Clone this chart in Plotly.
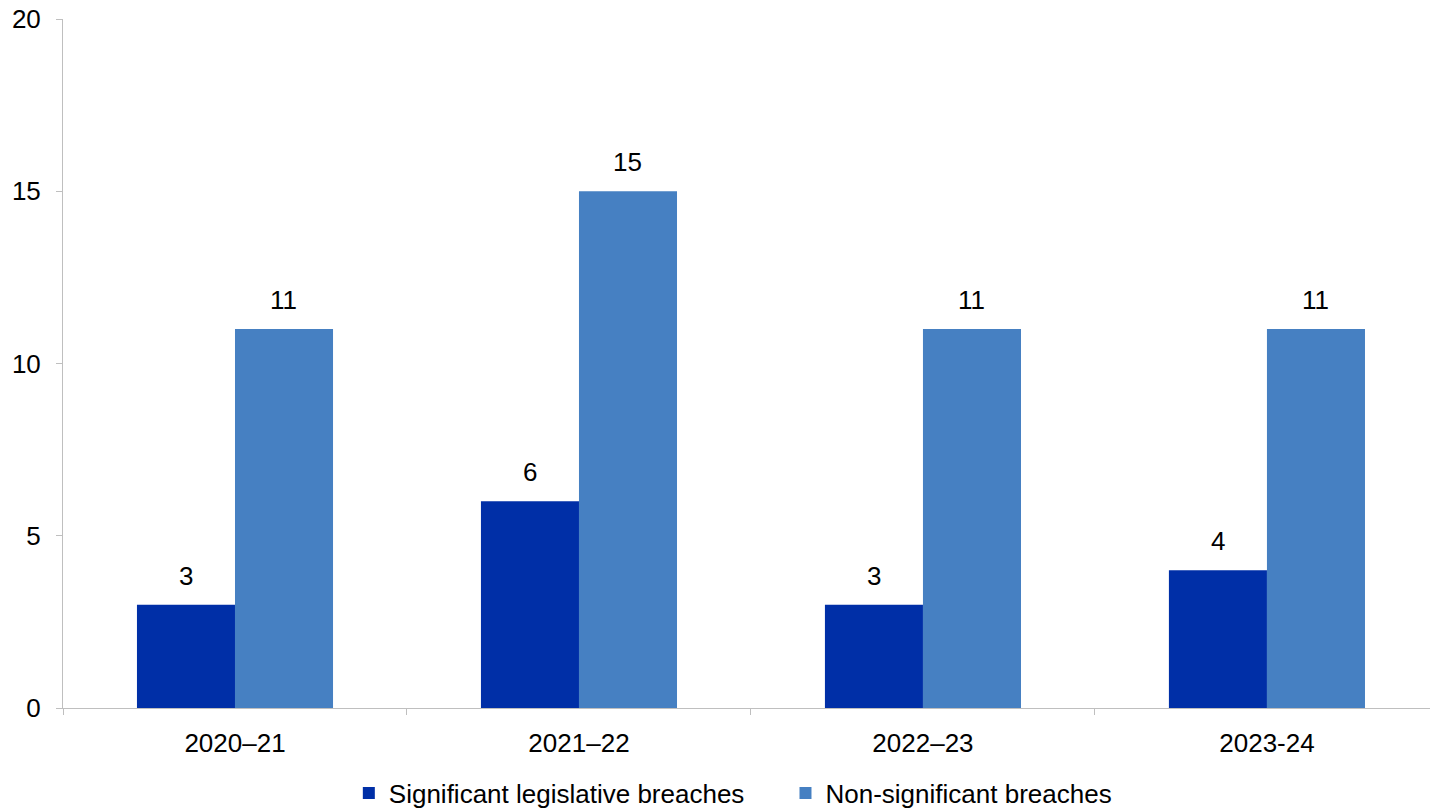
import plotly.graph_objects as go

categories = ["2020–21", "2021–22", "2022–23", "2023-24"]
significant = [3, 6, 3, 4]
non_significant = [11, 15, 11, 11]
y_ticks = [0, 5, 10, 15, 20]

FONT = "Liberation Sans, Arial, sans-serif"
SIZE = 26
NBSP = "\u00a0"

fig = go.Figure()
fig.add_trace(go.Bar(
    x=categories, y=significant, name="Significant legislative breaches" + NBSP * 5,
    marker=dict(color="#002FA7", line=dict(width=0)),
))
fig.add_trace(go.Bar(
    x=categories, y=non_significant, name="Non-significant breaches",
    marker=dict(color="#4680C2", line=dict(width=0)),
))

# data labels above bars
for vals, shift in ((significant, -49), (non_significant, 49)):
    for c, v in zip(categories, vals):
        fig.add_annotation(x=c, y=v, text=str(v), showarrow=False,
                           xanchor="center", yanchor="bottom",
                           xshift=shift, yshift=12,
                           font=dict(size=SIZE, color="black", family=FONT))

fig.update_layout(
    width=1430, height=810,
    margin=dict(l=63, r=0, t=19, b=102),
    paper_bgcolor="white", plot_bgcolor="white",
    barmode="group", bargap=0.43, bargroupgap=0,
    font=dict(family=FONT, size=SIZE, color="black"),
    showlegend=True,
    legend=dict(orientation="h", x=0.49, xanchor="center",
                yref="container", y=1 - 793 / 810, yanchor="middle",
                font=dict(size=SIZE, family=FONT), itemwidth=30,
                traceorder="normal"),
    xaxis=dict(
        range=[-0.5, 3.474], showline=True, linecolor="#BFBFBF", linewidth=1,
        ticks="outside", tickson="boundaries", ticklen=6, tickcolor="#BFBFBF",
        showgrid=False, tickfont=dict(size=SIZE), ticklabelstandoff=12,
        fixedrange=True, automargin=False,
    ),
    yaxis=dict(
        range=[0, 20], tickvals=y_ticks, showline=True, linecolor="#BFBFBF", linewidth=1,
        ticks="outside", ticklen=6, tickcolor="#BFBFBF", showgrid=False, zeroline=False,
        tickfont=dict(size=SIZE), ticklabelstandoff=10, fixedrange=True, automargin=False,
    ),
)

fig.write_html("out.html", config={"displayModeBar": False},
               post_script="document.body.style.margin='0';document.body.style.overflow='hidden';")
